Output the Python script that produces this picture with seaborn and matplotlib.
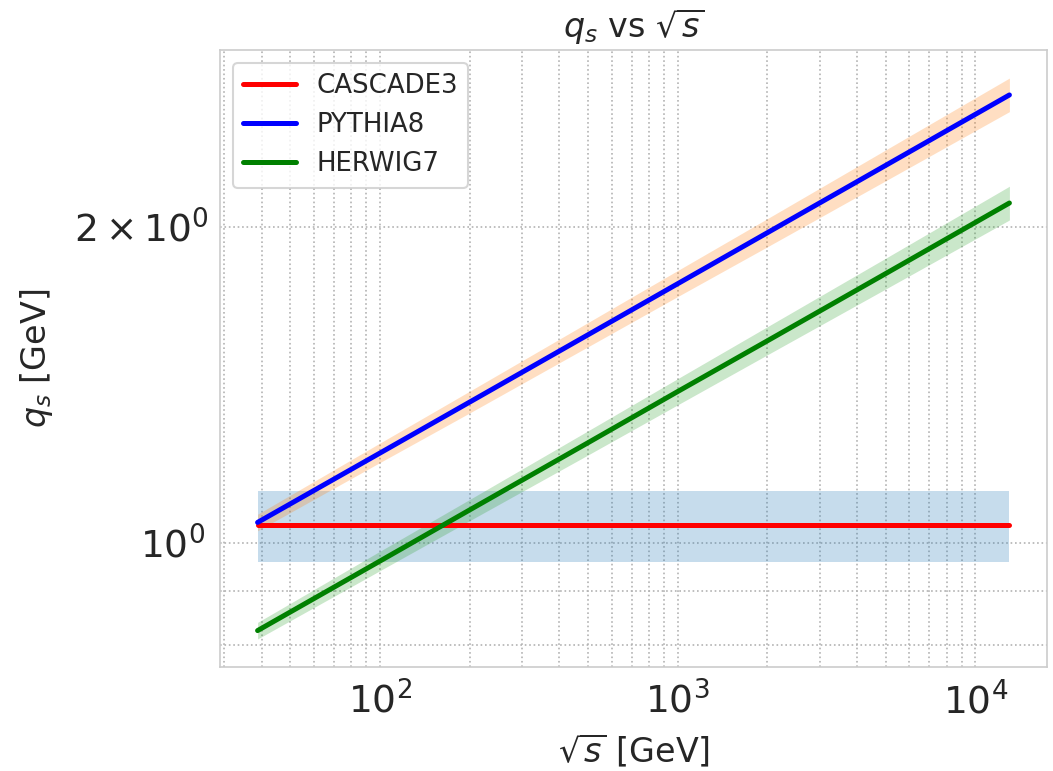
import numpy as np
import pandas as pd
import matplotlib
matplotlib.use("Agg")
import matplotlib.pyplot as plt
import seaborn as sns

# sqrt(s) values [GeV]
sqrt_s = [38.8, 100, 200, 500, 1000, 2000, 5000, 13000]

# CASCADE3
cascade_q = [1.04, 1.04, 1.04, 1.04, 1.04, 1.04, 1.04, 1.04]
cascade_lo = [0.96, 0.96, 0.96, 0.96, 0.96, 0.96, 0.96, 0.96]
cascade_hi = [1.12, 1.12, 1.12, 1.12, 1.12, 1.12, 1.12, 1.12]

# PYTHIA8
pythia_q = [1.046, 1.218, 1.362, 1.579, 1.766, 1.975, 2.290, 2.672]
pythia_lo = [1.027, 1.193, 1.330, 1.538, 1.717, 1.915, 2.214, 2.576]
pythia_hi = [1.065, 1.245, 1.395, 1.622, 1.818, 2.037, 2.369, 2.773]

# HERWIG7
herwig_q = [0.825, 0.961, 1.075, 1.246, 1.394, 1.558, 1.806, 2.108]
herwig_lo = [0.810, 0.941, 1.050, 1.213, 1.354, 1.511, 1.746, 2.031]
herwig_hi = [0.840, 0.982, 1.100, 1.279, 1.434, 1.607, 1.868, 2.187]

labels = ["CASCADE3", "PYTHIA8", "HERWIG7"]
line_colors = ["red", "blue", "green"]
band_colors = ["C0", "C1", "C2"]

sns.set_style("whitegrid")
plt.rcParams["font.family"] = ["DejaVu Sans"]

fig, ax = plt.subplots(figsize=(1053 / 150, 771 / 150), dpi=150)
fig.subplots_adjust(left=220 / 1053, right=1047 / 1053, top=1 - 50 / 771, bottom=1 - 667 / 771)

series = [
    (cascade_q, cascade_lo, cascade_hi),
    (pythia_q, pythia_lo, pythia_hi),
    (herwig_q, herwig_lo, herwig_hi),
]

for (q, lo, hi), lab, lc, bc in zip(series, labels, line_colors, band_colors):
    df = pd.DataFrame({"sqrt_s": sqrt_s, "q": q})
    ax.fill_between(sqrt_s, lo, hi, color=bc, alpha=0.25, linewidth=0)
    sns.lineplot(data=df, x="sqrt_s", y="q", ax=ax, color=lc, linewidth=2.4, label=lab)

ax.set_xscale("log")
ax.set_yscale("log")
ax.grid(True, which="both", linestyle=":", color="0.7", linewidth=0.8)
ax.tick_params(axis="both", which="both", labelsize=18)
ax.set_xlabel(r"$\sqrt{s}$ [GeV]", fontsize=16, labelpad=5)
ax.set_ylabel(r"$q_s$ [GeV]", fontsize=16, labelpad=9)
ax.set_title(r"$q_s$ vs $\sqrt{s}$", fontsize=16)
ax.legend(loc="upper left", fontsize=12.5)

fig.savefig("out.png", dpi=150)
